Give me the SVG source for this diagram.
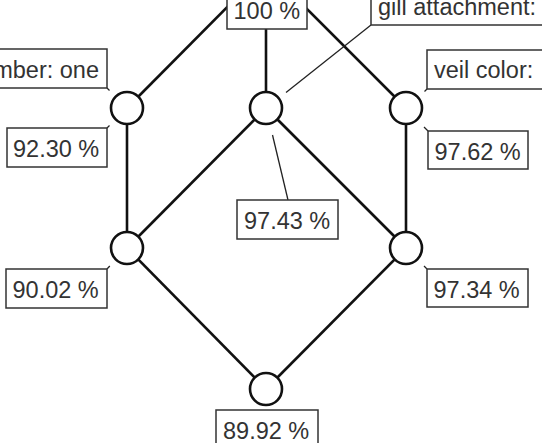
<svg xmlns="http://www.w3.org/2000/svg" width="542" height="443" viewBox="0 0 542 443">
<style>
.edge{stroke:#111;stroke-width:2.6;fill:none}
.node{fill:#fff;stroke:#111;stroke-width:2.6}
.box{fill:#fff;stroke:#333;stroke-width:1.5}
.lead{stroke:#222;stroke-width:1.3}
.lbl{font-family:"Liberation Sans",Arial,sans-serif;font-size:23.5px;fill:#333}
</style>
<rect width="542" height="443" fill="#fff"/>
<g id="connectors">
<line class="edge" x1="266" y1="-32" x2="127" y2="108"/>
<line class="edge" x1="266" y1="-32" x2="266" y2="108"/>
<line class="edge" x1="266" y1="-32" x2="406" y2="108"/>
<line class="edge" x1="127" y1="108" x2="127" y2="248"/>
<line class="edge" x1="266" y1="108" x2="127" y2="248"/>
<line class="edge" x1="266" y1="108" x2="406" y2="248"/>
<line class="edge" x1="406" y1="108" x2="406" y2="248"/>
<line class="edge" x1="127" y1="248" x2="266" y2="389"/>
<line class="edge" x1="406" y1="248" x2="266" y2="389"/>
</g>
<g id="node-top">
<circle class="node" cx="266" cy="-32" r="16"/>
<rect class="box" x="227" y="-10" width="80" height="39"/>
<text class="lbl" x="233.5" y="19">100 %</text>
</g>
<g id="node-left">
<circle class="node" cx="127" cy="108" r="16"/>
<line class="lead" x1="107" y1="88" x2="109.5" y2="90.5"/>
<rect class="box" x="-12" y="49" width="119" height="39"/>
<text class="lbl" x="99" y="77.5" text-anchor="end">mber: one</text>
<line class="lead" x1="107" y1="128" x2="109.5" y2="125.5"/>
<rect class="box" x="7" y="128" width="100" height="39"/>
<text class="lbl" x="13" y="157">92.30 %</text>
</g>
<g id="node-middle">
<circle class="node" cx="266" cy="108" r="16"/>
<line class="lead" x1="371" y1="25" x2="286" y2="92.5"/>
<rect class="box" x="371" y="-14" width="200" height="39"/>
<text class="lbl" x="378" y="15">gill attachment:</text>
<line class="lead" x1="288" y1="200" x2="272.5" y2="135"/>
<rect class="box" x="237" y="200" width="101" height="39"/>
<text class="lbl" x="244" y="229">97.43 %</text>
</g>
<g id="node-right">
<circle class="node" cx="406" cy="108" r="16"/>
<line class="lead" x1="427" y1="89" x2="424.5" y2="91.5"/>
<rect class="box" x="427" y="50" width="200" height="39"/>
<text class="lbl" x="434" y="78">veil color:</text>
<line class="lead" x1="428" y1="131" x2="424" y2="127"/>
<rect class="box" x="428" y="131" width="100" height="38"/>
<text class="lbl" x="434.5" y="159.5">97.62 %</text>
</g>
<g id="node-left-bottom">
<circle class="node" cx="127" cy="248" r="16"/>
<line class="lead" x1="107" y1="269" x2="109.8" y2="266"/>
<rect class="box" x="6" y="269" width="101" height="39"/>
<text class="lbl" x="12.5" y="298">90.02 %</text>
</g>
<g id="node-right-bottom">
<circle class="node" cx="406" cy="248" r="16"/>
<line class="lead" x1="427" y1="269" x2="424" y2="266"/>
<rect class="box" x="427" y="269" width="101" height="38"/>
<text class="lbl" x="433.5" y="298">97.34 %</text>
</g>
<g id="node-bottom">
<circle class="node" cx="266" cy="389" r="16"/>
<rect class="box" x="216" y="410" width="102" height="39"/>
<text class="lbl" x="223" y="439">89.92 %</text>
</g>
</svg>
